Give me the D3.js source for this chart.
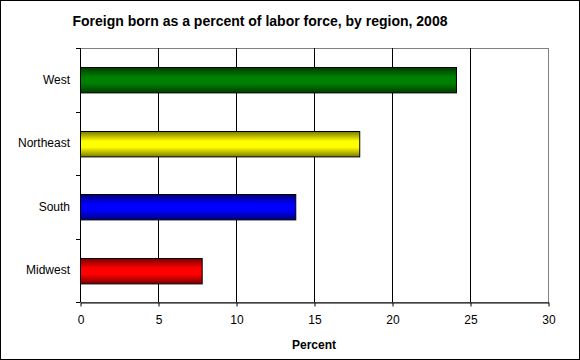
<!DOCTYPE html>
<html>
<head>
<meta charset="utf-8">
<script src="https://cdn.jsdelivr.net/npm/d3@7"></script>
<style>
  body { margin: 0; background: #fff; }
  text { font-family: Arial, "Liberation Sans", sans-serif; }
</style>
</head>
<body>
<div id="chart"></div>
<script>
// data
const regions = ['West', 'Northeast', 'South', 'Midwest']
const percents = [24.1, 17.9, 13.8, 7.8]
const barColors = ['#008000', '#ffff00', '#0000ff', '#ff0000']
const edgeColors = ['#003c00', '#7a7a00', '#00007a', '#7a0000']
const xTicks = [0, 5, 10, 15, 20, 25, 30]

let width = 580
let height = 360

let plot = {left: 80, right: 548, top: 48, bottom: 302}

const svg = d3.select('#chart')
  .append('svg')
  .attr('width', width)
  .attr('height', height)

const defs = svg.append('defs')

regions.forEach(function(r, i){
  let g = defs.append('linearGradient')
    .attr('id', 'grad' + i)
    .attr('x1', 0).attr('y1', 0)
    .attr('x2', 0).attr('y2', 1)
  g.append('stop').attr('offset', '0%').attr('stop-color', edgeColors[i])
  g.append('stop').attr('offset', '38%').attr('stop-color', barColors[i])
  g.append('stop').attr('offset', '62%').attr('stop-color', barColors[i])
  g.append('stop').attr('offset', '100%').attr('stop-color', edgeColors[i])
})

// outer frame
svg.append('rect')
  .attr('x', 0.5).attr('y', 0.5)
  .attr('width', width - 1).attr('height', height - 1)
  .attr('fill', 'white')
  .attr('stroke', 'black')

let xScale = d3.scaleLinear()
  .domain([0, 30])
  .range([plot.left, plot.right])

let yScale = d3.scaleBand()
  .domain(regions)
  .range([plot.top, plot.bottom])
  .paddingInner(0.6)
  .paddingOuter(0.3)

// plot border (gray)
svg.append('rect')
  .attr('x', plot.left + 0.5).attr('y', plot.top + 0.5)
  .attr('width', plot.right - plot.left).attr('height', plot.bottom - plot.top)
  .attr('fill', 'none')
  .attr('stroke', '#808080')

// vertical gridlines
svg.append('g')
  .selectAll('line')
  .data(xTicks.filter(d => d > 0 && d < 30))
  .join('line')
  .attr('x1', d => Math.round(xScale(d)) + 0.5)
  .attr('x2', d => Math.round(xScale(d)) + 0.5)
  .attr('y1', plot.top)
  .attr('y2', plot.bottom)
  .attr('stroke', 'black')

// bars
svg.append('g')
  .selectAll('rect')
  .data(regions)
  .join('rect')
  .attr('x', xScale(0) + 0.5)
  .attr('y', d => Math.round(yScale(d)) + 0.5)
  .attr('width', (d, i) => xScale(percents[i]) - xScale(0))
  .attr('height', yScale.bandwidth())
  .attr('fill', (d, i) => 'url(#grad' + i + ')')
  .attr('stroke', 'black')

// x axis
const xAxis = g => g
  .attr('transform', `translate(0.5,${plot.bottom + 0.5})`)
  .call(d3.axisBottom(xScale).tickValues(xTicks).tickSize(4).tickPadding(9).tickSizeOuter(0))
  .call(g => g.selectAll('text').attr('font-size', 12).attr('fill', 'black'))
  .call(g => g.selectAll('line, path').attr('stroke', 'black'))

svg.append('g').call(xAxis)

// y axis: ticks at band edges
let edges = d3.range(regions.length + 1).map(i => plot.top + i * (plot.bottom - plot.top) / regions.length)

svg.append('line')
  .attr('x1', plot.left + 0.5).attr('x2', plot.left + 0.5)
  .attr('y1', plot.top).attr('y2', plot.bottom)
  .attr('stroke', 'black')

svg.append('g')
  .selectAll('line')
  .data(edges)
  .join('line')
  .attr('x1', plot.left - 4)
  .attr('x2', plot.left)
  .attr('y1', d => Math.round(d) + 0.5)
  .attr('y2', d => Math.round(d) + 0.5)
  .attr('stroke', 'black')

svg.append('g')
  .selectAll('text')
  .data(regions)
  .join('text')
  .attr('x', plot.left - 10)
  .attr('y', d => yScale(d) + yScale.bandwidth() / 2)
  .attr('dy', '0.35em')
  .attr('text-anchor', 'end')
  .attr('font-size', 12)
  .text(d => d)

// title
svg.append('text')
  .attr('x', 260)
  .attr('y', 26)
  .attr('text-anchor', 'middle')
  .attr('font-size', 14)
  .attr('font-weight', 'bold')
  .text('Foreign born as a percent of labor force, by region, 2008')

// axis title
svg.append('text')
  .attr('x', xScale(15))
  .attr('y', 349)
  .attr('text-anchor', 'middle')
  .attr('font-size', 12)
  .attr('font-weight', 'bold')
  .text('Percent')
</script>
</body>
</html>
